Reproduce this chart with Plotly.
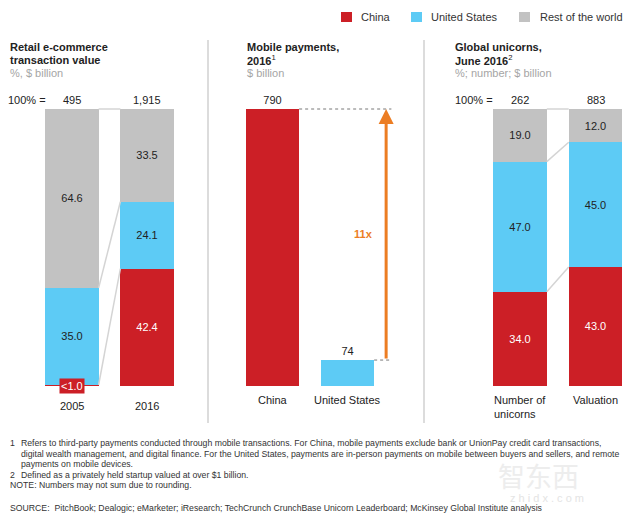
import plotly.graph_objects as go

RED, BLUE, GREY = "#CC1F26", "#5DCBF5", "#C2C2C2"
ORANGE = "#EC7D23"
INK = "#222222"
W, H = 640, 518

# ---- data ----
retail_years = ["2005", "2016"]
retail_totals = ["495", "1,915"]
retail_china = [0.4, 42.4]
retail_us = [35.0, 24.1]
retail_row = [64.6, 33.5]
retail_china_labels = ["", "42.4"]

mobile_names = ["China", "United States"]
mobile_values = [790, 74]
mobile_ratio_label = "11x"

unicorn_cats = ["Number of<br>unicorns", "Valuation"]
unicorn_totals = ["262", "883"]
unicorn_china = [34.0, 43.0]
unicorn_us = [47.0, 45.0]
unicorn_row = [19.0, 12.0]

legend_names = ["China", "United States", "Rest of the world"]

footnotes = [
    ("1", "Refers to third-party payments conducted through mobile transactions. For China, mobile payments exclude bank or UnionPay credit card transactions,"),
    ("", "digital wealth management, and digital finance. For the United States, payments are in-person payments on mobile between buyers and sellers, and remote"),
    ("", "payments on mobile devices."),
    ("2", "Defined as a privately held startup valued at over $1 billion."),
]
note_line = "NOTE: Numbers may not sum due to rounding."
source_line = "SOURCE:  PitchBook; Dealogic; eMarketer; iResearch; TechCrunch CrunchBase Unicorn Leaderboard; McKinsey Global Institute analysis"

# ---- helpers ----
PLOT_TOP, PLOT_BOTTOM = 109, 386
HEADROOM = 0.02  # extra axis range above the bars so top connectors are not clipped
FONT = "Liberation Sans, Arial, sans-serif"
FOOT = 8.7
FOOT_C = "#333333"

def px(x):
    return x / W

def py(y):
    return 1 - y / H

fig = go.Figure()
annotations, shapes = [], []

def text(x, y, s, size=11, color=INK, bold=False, anchor="left"):
    if bold:
        s = f"<b>{s}</b>"
    annotations.append(dict(x=px(x), y=py(y), xref="paper", yref="paper", text=s, showarrow=False,
                            xanchor=anchor, yanchor="middle", align="left",
                            font=dict(family=FONT, size=size, color=color),
                            borderpad=0, borderwidth=0))

def stacked(cats, series, xaxis, yaxis):
    for vals, color, name, labels, tcolor in series:
        fig.add_trace(go.Bar(x=cats, y=vals, name=name, xaxis=xaxis, yaxis=yaxis, width=0.71,
                             marker=dict(color=color, line=dict(width=0)),
                             text=labels, texttemplate="%{text}", textposition="inside",
                             insidetextanchor="middle", textangle=0, constraintext="none",
                             textfont=dict(family=FONT, size=11, color=tcolor),
                             showlegend=False, hoverinfo="skip"))

def connectors(series, xref, yref):
    high = [0, 0]
    for vals in series:
        high = [high[0] + vals[0], high[1] + vals[1]]
        shapes.append(dict(type="line", xref=xref, yref=yref, x0=0.355, x1=0.645,
                           y0=high[0], y1=high[1], line=dict(color="#D4D4D4", width=1.5)))

# panel 1
stacked(list(range(2)), [
    (retail_china, RED, "China", retail_china_labels, "white"),
    (retail_us, BLUE, "United States", [f"{v:.1f}" for v in retail_us], INK),
    (retail_row, GREY, "Rest of the world", [f"{v:.1f}" for v in retail_row], INK),
], "x", "y")
connectors([retail_china, retail_us, retail_row], "x", "y")

# panel 2
fig.add_trace(go.Bar(x=[0, 1], y=mobile_values, xaxis="x2", yaxis="y2", width=0.71,
                     marker=dict(color=[RED, BLUE], line=dict(width=0)),
                     text=[str(v) for v in mobile_values], texttemplate="%{text}", textposition="outside",
                     cliponaxis=False, textfont=dict(family=FONT, size=11, color=INK),
                     showlegend=False, hoverinfo="skip"))
ARROW_X = 1.515
for x0, v in zip([0.355, 1.355], mobile_values):
    shapes.append(dict(type="line", xref="x2", yref="y2", x0=x0, x1=ARROW_X + 0.07, y0=v, y1=v,
                       line=dict(color="#555555", width=0.8, dash="dot")))
annotations.append(dict(x=ARROW_X, y=mobile_values[0], ax=ARROW_X, ay=mobile_values[1],
                        xref="x2", yref="y2", axref="x2", ayref="y2", text="", showarrow=True,
                        arrowhead=2, arrowsize=1, arrowwidth=3, arrowcolor=ORANGE, standoff=0))
annotations.append(dict(x=1.21, y=(mobile_values[0] * 0.55), xref="x2", yref="y2", text=f"<b>{mobile_ratio_label}</b>",
                        showarrow=False, font=dict(family=FONT, size=11, color=ORANGE)))

# panel 3
stacked(list(range(2)), [
    (unicorn_china, RED, "China", [f"{v:.1f}" for v in unicorn_china], "white"),
    (unicorn_us, BLUE, "United States", [f"{v:.1f}" for v in unicorn_us], INK),
    (unicorn_row, GREY, "Rest of the world", [f"{v:.1f}" for v in unicorn_row], INK),
], "x3", "y3")
connectors([unicorn_china, unicorn_us, unicorn_row], "x3", "y3")

# axis labels
for xr, cats, totals, ypos in [("x", retail_years, retail_totals, 406), ("x2", mobile_names, None, 400), ("x3", unicorn_cats, unicorn_totals, 0)]:
    for i, c in enumerate(cats):
        yy = ypos if ypos else (407 if "<br>" in c else 400)
        annotations.append(dict(x=i, xref=xr, y=py(yy), yref="paper", text=c, showarrow=False, align="left",
                                font=dict(family=FONT, size=11, color=INK), yanchor="middle"))
        if totals:
            annotations.append(dict(x=i, xref=xr, y=py(100), yref="paper", text=totals[i], showarrow=False,
                                    font=dict(family=FONT, size=11, color=INK), yanchor="middle"))

# <1.0 tag
annotations.append(dict(x=0, xref="x", y=py(386), yref="paper", text="<1.0", showarrow=False, bgcolor=RED,
                        font=dict(family=FONT, size=11, color="white"), yanchor="middle", borderpad=1))

text(8, 100, "100% =")
text(455, 100, "100% =")

# titles
GT = "#A5A5A5"
text(10, 47, "Retail e-commerce", bold=True)
text(10, 60, "transaction value", bold=True)
text(10, 73, "%, $ billion", color=GT)
text(247, 47, "Mobile payments,", bold=True)
text(247, 60, "<b>2016</b><sup>1</sup>")
text(247, 73, "$ billion", color=GT)
text(455, 47, "Global unicorns,", bold=True)
text(455, 60, "<b>June 2016</b><sup>2</sup>")
text(455, 73, "%; number; $ billion", color=GT)

# separators
for x in (208, 424):
    shapes.append(dict(type="line", xref="paper", yref="paper", x0=px(x), x1=px(x), y0=py(40), y1=py(423),
                       line=dict(color="#DCDCDC", width=2)))

# legend
for x0, tx, name, c in zip((341, 411, 519), (361, 431, 540), legend_names, (RED, BLUE, GREY)):
    shapes.append(dict(type="rect", xref="paper", yref="paper", x0=px(x0), x1=px(x0 + 11), y0=py(12), y1=py(22),
                       fillcolor=c, line=dict(width=0)))
    text(tx, 17, name, color="#333333")

# watermark (drawn first so the footnotes stay on top)
annotations.append(dict(x=px(581), y=py(475), xref="paper", yref="paper", text="智东西", showarrow=False,
                        yanchor="middle", font=dict(family="Noto Sans CJK SC", size=27, color="#EDEDED")))
annotations.append(dict(x=px(586), y=py(498), xref="paper", yref="paper", text="z h i d x . c o m", showarrow=False,
                        yanchor="middle", font=dict(family=FONT, size=11, color="#E4E4E4")))

# footnotes
for yy, (n, t) in zip((443, 454, 464, 475), footnotes):
    if n:
        text(10, yy, n, size=FOOT, color=FOOT_C)
    text(21, yy, t, size=FOOT, color=FOOT_C)
text(10, 485, note_line, size=FOOT, color=FOOT_C)
text(10, 508, source_line, size=FOOT, color=FOOT_C)

def xaxis(dom, c0, c1):
    # c0,c1 = pixel centres of the two bars
    step = c1 - c0
    return dict(domain=[dom[0] / W, dom[1] / W], range=[(dom[0] - c0) / step, (dom[1] - c0) / step],
                visible=False, fixedrange=True)

ydom = [py(PLOT_BOTTOM), py(PLOT_TOP - HEADROOM * (PLOT_BOTTOM - PLOT_TOP))]
fig.update_layout(
    width=W, height=H, margin=dict(l=0, r=0, t=0, b=0), barmode="stack",
    paper_bgcolor="white", plot_bgcolor="white", bargap=0.29, showlegend=False,
    xaxis=xaxis((20, 200), 72, 147),
    xaxis2=xaxis((230, 410), 272.5, 347.5),
    xaxis3=xaxis((470, 635), 520, 595.5),
    yaxis=dict(domain=ydom, range=[0, 100 * (1 + HEADROOM)], visible=False, anchor="x"),
    yaxis2=dict(domain=ydom, range=[0, 790 * (1 + HEADROOM)], visible=False, anchor="x2"),
    yaxis3=dict(domain=ydom, range=[0, 100 * (1 + HEADROOM)], visible=False, anchor="x3"),
    annotations=annotations, shapes=shapes,
)

fig.write_html("out.html", post_script="document.body.style.margin='0';", config={"displayModeBar": False})
